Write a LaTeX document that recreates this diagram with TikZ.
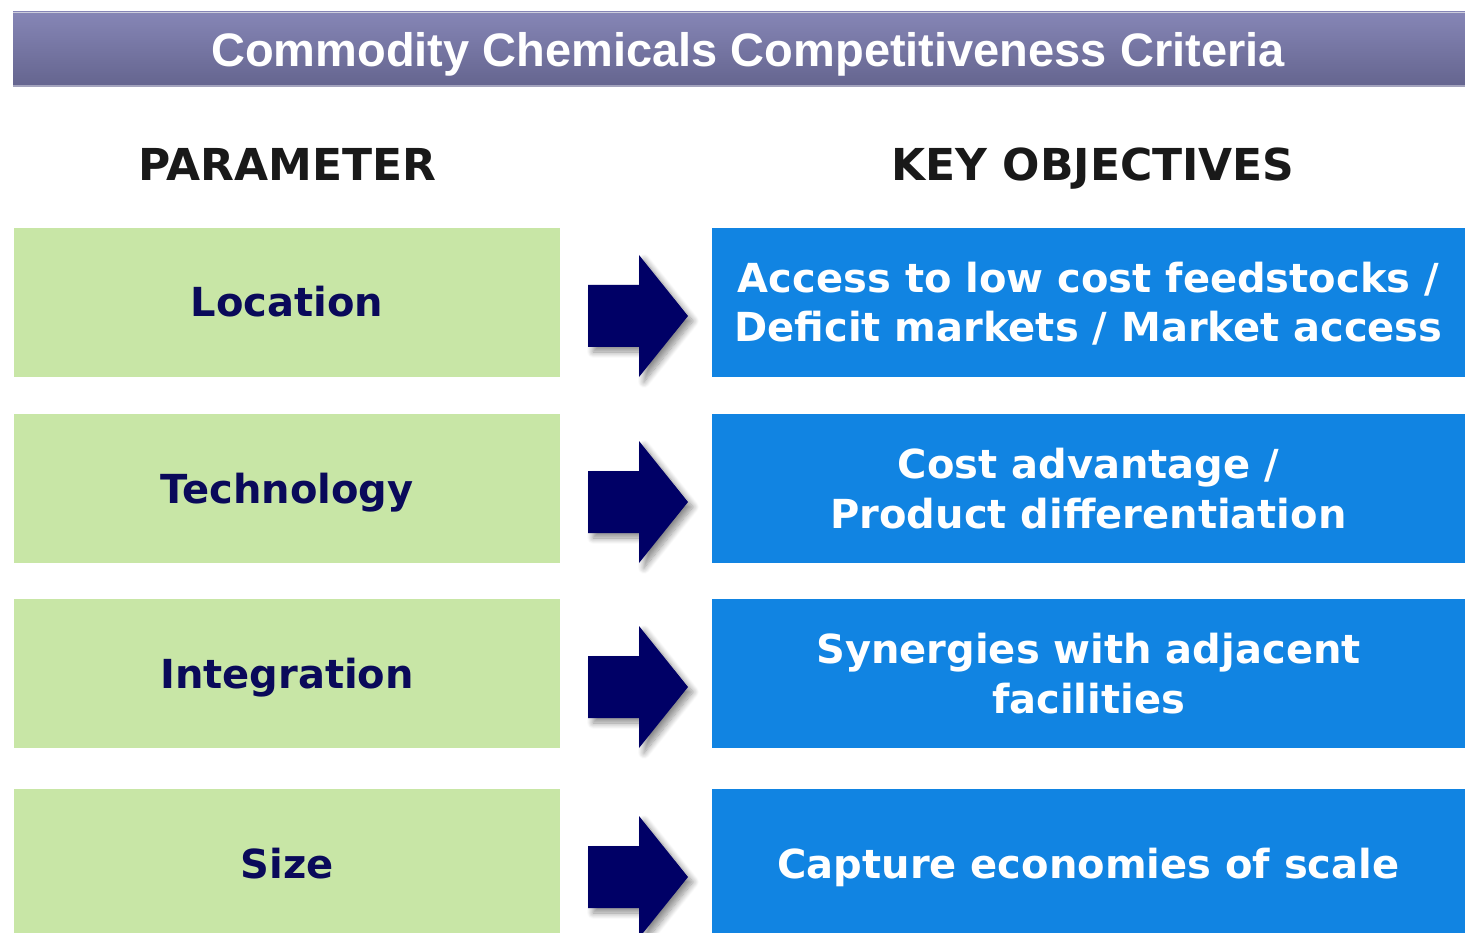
\documentclass[tikz,border=0pt]{standalone}
\usepackage{fontspec}
\setmainfont{DejaVu Sans}
\newfontfamily\titlefont{Liberation Sans}
\usetikzlibrary{shadows.blur}
\definecolor{titletop}{RGB}{134,134,182}
\definecolor{titlebot}{RGB}{100,100,142}
\definecolor{titleedge}{RGB}{205,205,220}
\definecolor{greenbox}{RGB}{200,230,166}
\definecolor{bluebox}{RGB}{17,132,226}
\definecolor{navytext}{RGB}{10,10,90}
\definecolor{arrownavy}{RGB}{0,0,102}
\definecolor{headtext}{RGB}{25,25,25}
\tikzset{
  param/.style={fill=greenbox, draw=none, minimum width=546pt, minimum height=149pt,
    inner sep=0pt, text=navytext, font=\fontsize{40}{50}\selectfont\bfseries,
    text height=29pt, text depth=0pt, align=center},
  objective/.style={fill=bluebox, draw=none, minimum width=753pt, minimum height=149pt,
    inner sep=0pt, text=white, font=\fontsize{40}{50}\selectfont\bfseries,
    text height=29pt, text depth=0pt, align=center},
  twoline/.style={text height=79pt, text depth=0pt},
  header/.style={anchor=base, inner sep=0pt, text=headtext, font=\fontsize{44}{50}\selectfont\bfseries},
  bigarrow/.style={fill=arrownavy, blur shadow={shadow xshift=5pt, shadow yshift=-5pt,
    shadow blur steps=10, shadow blur radius=6pt, shadow opacity=45}},
}
\begin{document}
\begin{tikzpicture}[x=1pt,y=-1pt]
\useasboundingbox (0,0) rectangle (1465,933);
% title bar
\shade[top color=titletop, bottom color=titlebot] (13,12) rectangle (1465,87);
\draw[titleedge, line width=1.5pt] (13,12.5) -- (1465,12.5);
\draw[titleedge!60!titlebot, line width=1.5pt] (13,86) -- (1465,86);
\node[text=white, font=\titlefont\fontsize{47}{50}\selectfont\bfseries, inner sep=0pt, anchor=base]
  (title) at (748,67) {Commodity Chemicals Competitiveness Criteria};
% headers
\node[header] (hparam) at (287,181) {PARAMETER};
\node[header] (hobj) at (1093,181) {KEY OBJECTIVES};
% rows
\node[param] (p1) at (287,302.5) {Location};
\node[param] (p2) at (287,488.5) {Technology};
\node[param] (p3) at (287,673.5) {Integration};
\node[param] (p4) at (287,863.5) {Size};
\node[objective, twoline] (o1) at (1088.5,302.5) {Access to low cost feedstocks /\\Deficit markets / Market access};
\node[objective, twoline] (o2) at (1088.5,488.5) {Cost advantage /\\Product differentiation};
\node[objective, twoline] (o3) at (1088.5,673.5) {Synergies with adjacent\\facilities};
\node[objective] (o4) at (1088.5,863.5) {Capture economies of scale};
% arrows
\foreach \t in {228,414,599,789}{
  \fill[bigarrow] (588,\t+57) -- (639,\t+57) -- (639,\t+27) -- (688,\t+88)
    -- (639,\t+149) -- (639,\t+119) -- (588,\t+119) -- cycle;
}
\end{tikzpicture}
\end{document}
